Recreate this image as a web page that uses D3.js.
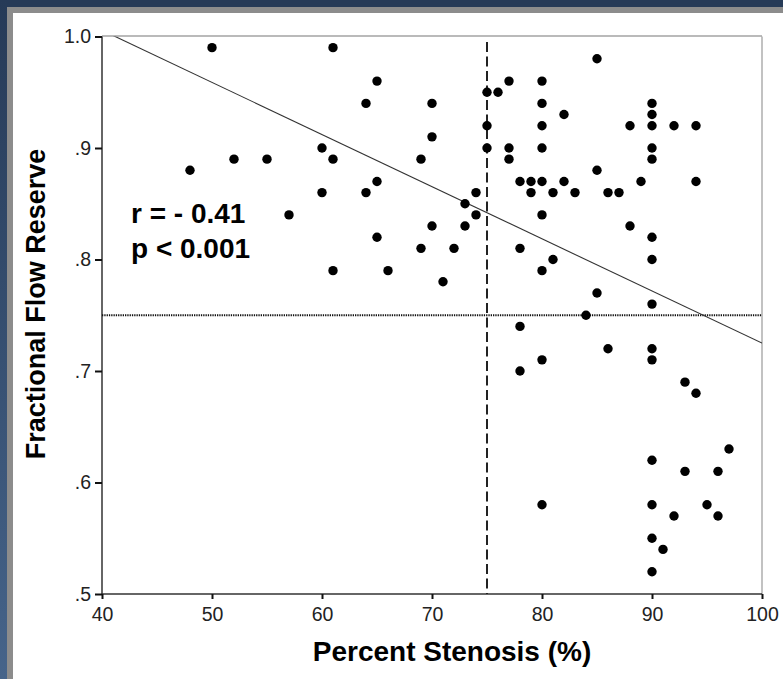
<!DOCTYPE html>
<html>
<head>
<meta charset="utf-8">
<script src="https://cdn.jsdelivr.net/npm/d3@7"></script>
<style>
  html, body { margin: 0; padding: 0; background: #fff; }
  svg { display: block; }
</style>
</head>
<body>
<svg id="chart" width="783" height="679"></svg>
<script>
// ---- data ----
const stenosis = [50,61,85,65,77,80,75,76,64,70,80,90,82,90,75,80,88,90,92,94,70,60,75,77,80,90,52,55,61,69,77,90,48,85,65,78,79,80,82,89,94,60,64,74,79,81,83,86,87,73,57,74,80,70,73,88,65,90,69,72,78,81,90,61,66,80,71,85,90,84,78,86,90,80,90,78,93,94,97,90,93,96,80,90,95,92,96,90,91,90];
const ffr = [.99,.99,.98,.96,.96,.96,.95,.95,.94,.94,.94,.94,.93,.93,.92,.92,.92,.92,.92,.92,.91,.90,.90,.90,.90,.90,.89,.89,.89,.89,.89,.89,.88,.88,.87,.87,.87,.87,.87,.87,.87,.86,.86,.86,.86,.86,.86,.86,.86,.85,.84,.84,.84,.83,.83,.83,.82,.82,.81,.81,.81,.80,.80,.79,.79,.79,.78,.77,.76,.75,.74,.72,.72,.71,.71,.70,.69,.68,.63,.62,.61,.61,.58,.58,.58,.57,.57,.55,.54,.52];
const xTicks = [40, 50, 60, 70, 80, 90, 100];
const yTicks = [0.5, 0.6, 0.7, 0.8, 0.9, 1.0];
const yTickLabels = [".5", ".6", ".7", ".8", ".9", "1.0"];
const fitX = [40, 100];
const fitY = [1.0056, 0.725];
const cutoffStenosis = 75;
const cutoffFFR = 0.75;
const statsText = ["r = - 0.41", "p < 0.001"];
const xTitle = "Percent Stenosis (%)";
const yTitle = "Fractional Flow Reserve";

const font = "'Liberation Sans', Arial, Helvetica, sans-serif";
const svg = d3.select("#chart");

// frame
const defs = svg.append("defs");
const grad = defs.append("linearGradient").attr("id", "navy").attr("x1", 0).attr("y1", 0).attr("x2", 0).attr("y2", 1);
grad.append("stop").attr("offset", "0%").attr("stop-color", "#263a57");
grad.append("stop").attr("offset", "100%").attr("stop-color", "#46648a");
svg.append("rect").attr("x", 0).attr("y", 0).attr("width", 783).attr("height", 7).attr("fill", "#263a57");
svg.append("rect").attr("x", 0).attr("y", 0).attr("width", 7).attr("height", 679).attr("fill", "url(#navy)");
svg.append("rect").attr("x", 7).attr("y", 7).attr("width", 776).attr("height", 6).attr("fill", "#8c8c8c");
svg.append("rect").attr("x", 7).attr("y", 7).attr("width", 6).attr("height", 672).attr("fill", "#8c8c8c");

// scales
const x = d3.scaleLinear().domain([40, 100]).range([102, 762]);
const y = d3.scaleLinear().domain([0.5, 1.0]).range([594, 36.5]);

defs.append("clipPath").attr("id", "plotclip")
  .append("rect").attr("x", x(40)).attr("y", y(1.0)).attr("width", x(100) - x(40)).attr("height", y(0.5) - y(1.0));

// top & right border
svg.append("line").attr("x1", x(40)).attr("x2", x(100)).attr("y1", y(1.0) - 0.5).attr("y2", y(1.0) - 0.5)
  .attr("stroke", "#777").attr("stroke-width", 1.2);
svg.append("line").attr("x1", x(100)).attr("x2", x(100)).attr("y1", y(1.0)).attr("y2", y(0.5))
  .attr("stroke", "#999").attr("stroke-width", 1.2);

// axes
const xAxis = d3.axisBottom(x).tickValues(xTicks).tickSize(5).tickPadding(8).tickFormat(d3.format("d"));
const gx = svg.append("g").attr("transform", `translate(0,${y(0.5)})`).call(xAxis);
const yAxis = d3.axisLeft(y).tickValues(yTicks).tickSize(7).tickPadding(4).tickFormat((d, i) => yTickLabels[i]);
const gy = svg.append("g").attr("transform", `translate(${x(40)},0)`).call(yAxis);
[gx, gy].forEach(g => {
  g.select(".domain").attr("stroke", "#333").attr("stroke-width", 1.5);
  g.selectAll(".tick line").attr("stroke", "#111").attr("stroke-width", 2);
  g.selectAll(".tick text").attr("font-family", font).attr("font-size", 19.5).attr("fill", "#222");
});
gx.selectAll(".domain").attr("d", `M${x(40)},0H${x(100)}`);
gy.selectAll(".domain").attr("d", `M0,${y(0.5)}V${y(1.0)}`);

const plot = svg.append("g").attr("clip-path", "url(#plotclip)");

// reference lines
plot.append("line").attr("x1", x(40)).attr("x2", x(100)).attr("y1", y(cutoffFFR)).attr("y2", y(cutoffFFR))
  .attr("stroke", "#111").attr("stroke-width", 1.8).attr("stroke-dasharray", "1.3,1");
plot.append("line").attr("x1", x(cutoffStenosis)).attr("x2", x(cutoffStenosis)).attr("y1", y(0.995)).attr("y2", y(0.5))
  .attr("stroke", "#222").attr("stroke-width", 2).attr("stroke-dasharray", "10,4.5");

// regression line
plot.append("line").attr("x1", x(fitX[0])).attr("y1", y(fitY[0])).attr("x2", x(fitX[1])).attr("y2", y(fitY[1]))
  .attr("stroke", "#333").attr("stroke-width", 1.1);

// points
plot.selectAll("circle.pt").data(stenosis).join("circle").attr("class", "pt")
  .attr("cx", d => x(d)).attr("cy", (d, i) => y(ffr[i])).attr("r", 4.7).attr("fill", "#000");

// stats text
svg.selectAll("text.stat").data(statsText).join("text").attr("class", "stat")
  .attr("x", 131).attr("y", (d, i) => 223 + i * 35)
  .attr("font-family", font).attr("font-weight", "bold").attr("font-size", 28).attr("fill", "#000")
  .text(d => d);

// axis titles
svg.append("text").attr("x", 452).attr("y", 661).attr("text-anchor", "middle")
  .attr("font-family", font).attr("font-weight", "bold").attr("font-size", 28).attr("fill", "#000")
  .text(xTitle);
svg.append("text").attr("transform", "translate(45,304) rotate(-90)").attr("text-anchor", "middle")
  .attr("font-family", font).attr("font-weight", "bold").attr("font-size", 27).attr("fill", "#000")
  .text(yTitle);
</script>
</body>
</html>
